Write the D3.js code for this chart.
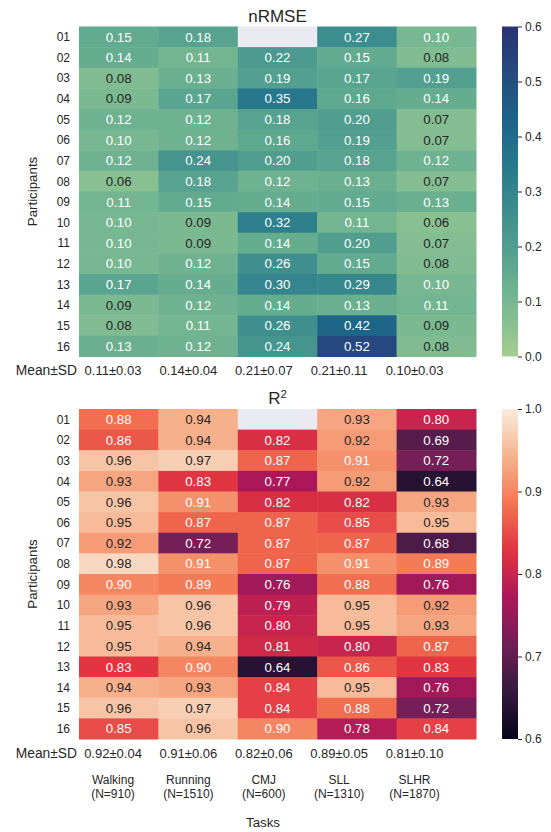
<!DOCTYPE html>
<html>
<head>
<meta charset="utf-8">
<script src="https://cdn.jsdelivr.net/npm/d3@7"></script>
<style>
body{margin:0;background:#fff;}
svg{display:block;font-family:"Liberation Sans",Arial,sans-serif;}
</style>
</head>
<body>
<svg id="chart" width="551" height="832"></svg>
<script>
// ---------- data ----------
const participants = ["01","02","03","04","05","06","07","08","09","10","11","12","13","14","15","16"];
const tasks = ["Walking","Running","CMJ","SLL","SLHR"];
const taskN = ["(N=910)","(N=1510)","(N=600)","(N=1310)","(N=1870)"];

const nrmseWalking = [0.15,0.14,0.08,0.09,0.12,0.10,0.12,0.06,0.11,0.10,0.10,0.10,0.17,0.09,0.08,0.13];
const nrmseRunning = [0.18,0.11,0.13,0.17,0.12,0.12,0.24,0.18,0.15,0.09,0.09,0.12,0.14,0.12,0.11,0.12];
const nrmseCMJ     = [null,0.22,0.19,0.35,0.18,0.16,0.20,0.12,0.14,0.32,0.14,0.26,0.30,0.14,0.26,0.24];
const nrmseSLL     = [0.27,0.15,0.17,0.16,0.20,0.19,0.18,0.13,0.15,0.11,0.20,0.15,0.29,0.13,0.42,0.52];
const nrmseSLHR    = [0.10,0.08,0.19,0.14,0.07,0.07,0.12,0.07,0.13,0.06,0.07,0.08,0.10,0.11,0.09,0.08];
const nrmseMean = ["0.11±0.03","0.14±0.04","0.21±0.07","0.21±0.11","0.10±0.03"];

const r2Walking = [0.88,0.86,0.96,0.93,0.96,0.95,0.92,0.98,0.90,0.93,0.95,0.95,0.83,0.94,0.96,0.85];
const r2Running = [0.94,0.94,0.97,0.83,0.91,0.87,0.72,0.91,0.89,0.96,0.96,0.94,0.90,0.93,0.97,0.96];
const r2CMJ     = [null,0.82,0.87,0.77,0.82,0.87,0.87,0.87,0.76,0.79,0.80,0.81,0.64,0.84,0.84,0.90];
const r2SLL     = [0.93,0.92,0.91,0.92,0.82,0.85,0.87,0.91,0.88,0.95,0.95,0.80,0.86,0.95,0.88,0.78];
const r2SLHR    = [0.80,0.69,0.72,0.64,0.93,0.95,0.68,0.89,0.76,0.92,0.93,0.87,0.83,0.76,0.72,0.84];
const r2Mean = ["0.92±0.04","0.91±0.06","0.82±0.06","0.89±0.05","0.81±0.10"];

const nrmseTicks = [0.0,0.1,0.2,0.3,0.4,0.5,0.6];
const r2Ticks = [0.6,0.7,0.8,0.9,1.0];

// ---------- colormaps (seaborn crest / rocket approximations) ----------
const cmapPos = [0,1/7,2/7,3/7,4/7,5/7,6/7,1];
const crestColors = ["#a5cd90","#7dba91","#59a590","#40908e","#287a8c","#1c6488","#254b7f","#2c3172"];
const rocketColors = ["#03051a","#35193e","#701f57","#ad1759","#e13342","#f37651","#f6b48f","#faebdd"];
function makeCmap(cols){
  const s = d3.scaleLinear().domain(cmapPos).range(cols).interpolate(d3.interpolateRgb).clamp(true);
  return t => s(t);
}
const crest = makeCmap(crestColors);
const rocket = makeCmap(rocketColors);

function luminance(c){
  const rgb = d3.rgb(c);
  const f = v => { v/=255; return v <= 0.03928 ? v/12.92 : Math.pow((v+0.055)/1.055,2.4); };
  return 0.2126*f(rgb.r)+0.7152*f(rgb.g)+0.0722*f(rgb.b);
}

const svg = d3.select("#chart");
const textDark = "#262626";

function drawPanel(opts){
  const {columns, means, vmin, vmax, cmap, ticks, top, title, titleHtml} = opts;
  const x = d3.scaleBand().domain(tasks).range([79,476]);
  const y = d3.scaleBand().domain(participants).range([top, top+330]);
  const c = d3.scaleLinear().domain([vmin,vmax]).range([0,1]);
  const g = svg.append("g");

  const cells = [];
  tasks.forEach((t,i)=>columns[i].forEach((v,j)=>cells.push({task:t,p:participants[j],v})));

  g.selectAll("rect.cell").data(cells).join("rect")
    .attr("x",d=>x(d.task)).attr("y",d=>y(d.p))
    .attr("width",x.bandwidth()+0.5).attr("height",y.bandwidth()+0.5)
    .attr("fill",d=>d.v==null ? "#eaeaf2" : cmap(c(d.v)));

  g.selectAll("text.val").data(cells.filter(d=>d.v!=null)).join("text")
    .attr("x",d=>x(d.task)+x.bandwidth()/2).attr("y",d=>y(d.p)+y.bandwidth()/2)
    .attr("dy","0.36em").attr("text-anchor","middle")
    .attr("font-size","13.3px")
    .attr("fill",d=>luminance(cmap(c(d.v)))>0.408 ? textDark : "#ffffff")
    .text(d=>d.v.toFixed(2));

  // y tick labels
  g.selectAll("text.yt").data(participants).join("text")
    .attr("x",70).attr("y",d=>y(d)+y.bandwidth()/2).attr("dy","0.36em")
    .attr("text-anchor","end").attr("font-size","12px").attr("fill",textDark)
    .text(d=>d);

  // y axis label
  g.append("text")
    .attr("transform",`translate(32,${top+165}) rotate(-90)`)
    .attr("text-anchor","middle").attr("dy","0.36em")
    .attr("font-size","13.3px").attr("fill",textDark).text("Participants");

  // title
  const tt = g.append("text").attr("x",(79+476)/2).attr("y",titleHtml ? top-5 : top-4.5)
    .attr("text-anchor","middle").attr("font-size","17px").attr("fill",textDark);
  if(titleHtml){
    tt.append("tspan").text("R");
    tt.append("tspan").attr("font-size","11.5px").attr("dy","-6").text("2");
  } else tt.text(title);

  // mean row
  const mx = d3.scalePoint().domain(tasks).range([113,414.5]);
  g.append("text").attr("x",77).attr("y",top+330+14).attr("dy","0.36em")
    .attr("text-anchor","end").attr("font-size","13.8px").attr("fill",textDark).text("Mean±SD");
  g.selectAll("text.mean").data(tasks).join("text")
    .attr("x",d=>mx(d)).attr("y",top+330+14).attr("dy","0.36em")
    .attr("text-anchor","middle").attr("font-size","13px").attr("fill",textDark)
    .text((d,i)=>means[i]);

  // colorbar
  const gid = "grad"+top;
  const grad = svg.append("defs").append("linearGradient").attr("id",gid)
    .attr("x1","0").attr("y1","1").attr("x2","0").attr("y2","0");
  d3.range(0,1.0001,0.02).forEach(t=>grad.append("stop").attr("offset",t).attr("stop-color",cmap(t)));
  g.append("rect").attr("x",502).attr("y",top).attr("width",16).attr("height",330)
    .attr("fill",`url(#${gid})`);
  const cy = d3.scaleLinear().domain([vmin,vmax]).range([top+330,top]);
  const ax = g.append("g").attr("transform","translate(518,0)")
    .call(d3.axisRight(cy).tickValues(ticks).tickSize(4).tickPadding(3).tickFormat(d3.format(".1f")));
  ax.select(".domain").remove();
  ax.selectAll("line").attr("stroke",textDark);
  ax.selectAll("text").attr("font-size","12px").attr("fill",textDark)
    .attr("font-family","'Liberation Sans',Arial,sans-serif");
  return mx;
}

drawPanel({columns:[nrmseWalking,nrmseRunning,nrmseCMJ,nrmseSLL,nrmseSLHR], means:nrmseMean,
  vmin:0, vmax:0.6, cmap:crest, ticks:nrmseTicks, top:26.5, title:"nRMSE"});
const mx = drawPanel({columns:[r2Walking,r2Running,r2CMJ,r2SLL,r2SLHR], means:r2Mean,
  vmin:0.6, vmax:1.0, cmap:rocket, ticks:r2Ticks, top:409, titleHtml:true});

// x tick labels (tasks)
const xl = svg.append("g");
xl.selectAll("text.t1").data(tasks).join("text")
  .attr("x",d=>mx(d)).attr("y",780).attr("dy","0.36em").attr("text-anchor","middle")
  .attr("font-size","12px").attr("fill",textDark).text(d=>d);
xl.selectAll("text.t2").data(tasks).join("text")
  .attr("x",d=>mx(d)).attr("y",794).attr("dy","0.36em").attr("text-anchor","middle")
  .attr("font-size","12px").attr("fill",textDark).text((d,i)=>taskN[i]);
xl.append("text").attr("x",263).attr("y",822).attr("dy","0.36em").attr("text-anchor","middle")
  .attr("font-size","13.3px").attr("fill",textDark).text("Tasks");
</script>
</body>
</html>
